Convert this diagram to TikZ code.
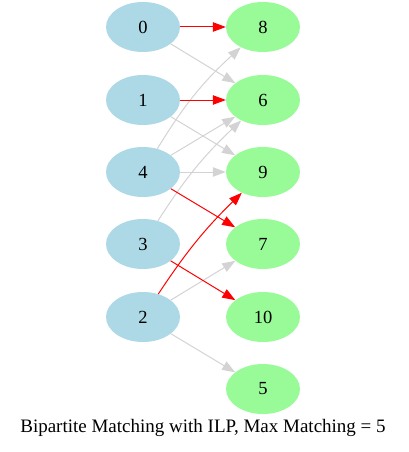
\documentclass[tikz,border=0pt]{standalone}
\usepackage{fontspec}
\setmainfont{Liberation Serif}
\usetikzlibrary{shapes.geometric,arrows.meta}

\definecolor{leftblue}{HTML}{ADD8E6}
\definecolor{rightgreen}{HTML}{98FB98}
\definecolor{edgegray}{HTML}{D3D3D3}

\tikzstyle{vertex}=[ellipse,minimum width=74pt,minimum height=50pt,inner sep=0pt,font=\fontsize{18.5}{20}\selectfont]
\tikzstyle{leftv}=[vertex,fill=leftblue]
\tikzstyle{rightv}=[vertex,fill=rightgreen]
\tikzstyle{plain}=[edgegray,line width=1pt]
\tikzstyle{matched}=[red,line width=1pt]

\begin{document}
\begin{tikzpicture}[x=1pt,y=-1pt,>={Triangle[length=13pt,width=9.5pt]}]
	\useasboundingbox (0,0) rectangle (408,452);
	% left side
	\foreach \nr/\yy in {0/27, 1/100, 4/172, 3/244, 2/317}{
		\node (L\nr)[leftv] at (143,\yy) {\nr};
	}
	% right side
	\foreach \nr/\yy in {8/27, 6/100, 9/172, 7/244, 10/317, 5/389}{
		\node (R\nr)[rightv] at (263,\yy) {\nr};
	}

	\draw[->,plain] (L0) -- (R6);
	\draw[->,plain] (L1) -- (R9);
	\draw[->,plain] (L4) to[bend left=8] (R8);
	\draw[->,plain] (L4) -- (R6);
	\draw[->,plain] (L4) -- (R9);
	\draw[->,plain] (L3) to[bend left=7] (R6);
	\draw[->,plain] (L2) -- (R7);
	\draw[->,plain] (L2) -- (R5);

	\draw[->,matched] (L0) -- (R8);
	\draw[->,matched] (L1) -- (R6);
	\draw[->,matched] (L4) -- (R7);
	\draw[->,matched] (L3) -- (R10);
	\draw[->,matched] (L2) to[bend left=6] (R9);

	\node (title) at (203,428) {\fontsize{19}{21}\selectfont Bipartite Matching with ILP, Max Matching = 5};
\end{tikzpicture}
\end{document}
